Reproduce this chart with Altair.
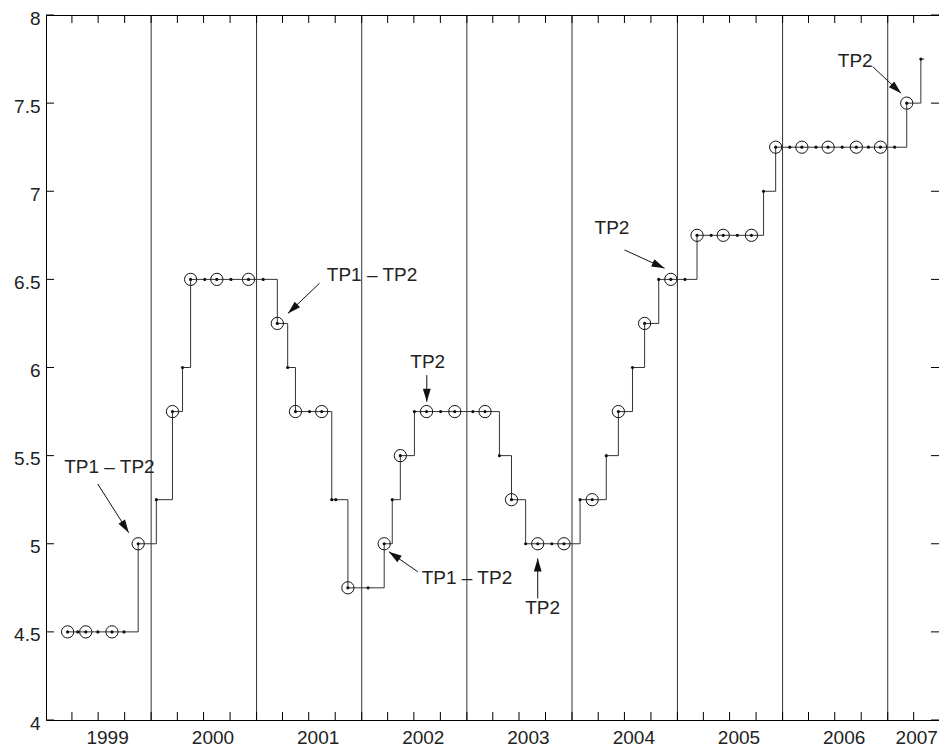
import altair as alt
import pandas as pd

# ---- data: policy rate at each review date ----
review_dates = [
    "1999-03-17", "1999-04-21", "1999-05-19", "1999-06-30", "1999-08-18", "1999-09-29", "1999-11-17",
    "2000-01-19", "2000-03-15", "2000-04-19", "2000-05-17", "2000-07-05", "2000-08-16", "2000-10-04", "2000-12-04",
    "2001-01-24", "2001-03-14", "2001-04-19", "2001-05-16", "2001-07-04", "2001-08-15", "2001-09-19", "2001-10-03", "2001-11-14",
    "2002-01-23", "2002-03-20", "2002-04-17", "2002-05-15", "2002-07-03", "2002-08-14", "2002-10-02", "2002-11-20",
    "2003-01-22", "2003-03-05", "2003-04-24", "2003-06-05", "2003-07-24", "2003-09-04", "2003-10-23", "2003-12-04",
    "2004-01-29", "2004-03-11", "2004-04-29", "2004-06-10", "2004-07-29", "2004-09-09", "2004-10-28", "2004-12-09",
    "2005-01-27", "2005-03-10", "2005-04-28", "2005-06-09", "2005-07-28", "2005-09-15", "2005-10-27", "2005-12-08",
    "2006-01-26", "2006-03-09", "2006-04-27", "2006-06-08", "2006-07-27", "2006-09-14", "2006-10-26", "2006-12-07",
    "2007-01-25", "2007-03-08", "2007-04-26",
]
rate_values = [
    4.5, 4.5, 4.5, 4.5, 4.5, 4.5, 5.0,
    5.25, 5.75, 6.0, 6.5, 6.5, 6.5, 6.5, 6.5,
    6.5, 6.25, 6.0, 5.75, 5.75, 5.75, 5.25, 5.25, 4.75,
    4.75, 5.0, 5.25, 5.5, 5.75, 5.75, 5.75, 5.75,
    5.75, 5.75, 5.5, 5.25, 5.0, 5.0, 5.0, 5.0,
    5.25, 5.25, 5.5, 5.75, 6.0, 6.25, 6.5, 6.5,
    6.5, 6.75, 6.75, 6.75, 6.75, 6.75, 7.0, 7.25,
    7.25, 7.25, 7.25, 7.25, 7.25, 7.25, 7.25, 7.25,
    7.25, 7.5, 7.75,
]
# 1 = circled (statement date), 0 = plain review date
circled = [
    1, 0, 1, 0, 1, 0, 1,
    0, 1, 0, 1, 0, 1, 0, 1,
    0, 1, 0, 1, 0, 1, 0, 0, 1,
    0, 1, 0, 1, 0, 1, 0, 1,
    0, 1, 0, 1, 0, 1, 0, 1,
    0, 1, 0, 1, 0, 1, 0, 1,
    0, 1, 0, 1, 0, 1, 0, 1,
    0, 1, 0, 1, 0, 1, 0, 1,
    0, 1, 0,
]
line_end_date = "2007-05-08"

year_lines = ["2000-01-01", "2001-01-01", "2002-01-01", "2003-01-01",
              "2004-01-01", "2005-01-01", "2006-01-01", "2007-01-01"]
year_label_dates = ["1999-08-01", "2000-08-01", "2001-08-01", "2002-08-01", "2003-08-01",
                    "2004-08-01", "2005-08-01", "2006-08-01", "2007-04-10"]
y_ticks = [4, 4.5, 5, 5.5, 6, 6.5, 7, 7.5, 8]
x_domain = ["1999-01-01", "2007-06-28"]

# ---- annotations (positions in decimal years / rate units) ----
ann_labels = ["TP1 – TP2", "TP1 – TP2", "TP2", "TP1 – TP2", "TP2", "TP2", "TP2"]
ann_text_x = [2002.098, 1999.603, 2002.628, 2003.001, 2003.721, 2004.379, 2006.691]
ann_text_y = [6.525, 5.435, 6.033, 4.804, 4.634, 6.790, 7.739]
arrow_from_x = [2001.599, 1999.492, 2002.619, 2002.533, 2003.674, 2004.498, 2006.857]
arrow_from_y = [6.478, 5.339, 5.957, 4.841, 4.690, 6.667, 7.707]
arrow_to_x = [2001.298, 1999.787, 2002.619, 2002.258, 2003.674, 2004.878, 2007.127]
arrow_to_y = [6.307, 5.063, 5.806, 4.955, 4.917, 6.563, 7.556]
arrow_angle = [226.6, 147.5, 180.0, 304.6, 0.0, 114.6, 133.1]


def ms(s):
    return int(pd.Timestamp(s, tz="UTC").value // 10**6)


def dec_ms(y):
    yr = int(y)
    a = pd.Timestamp(year=yr, month=1, day=1, tz="UTC")
    b = pd.Timestamp(year=yr + 1, month=1, day=1, tz="UTC")
    return int((a + (b - a) * (y - yr)).value // 10**6)


W, H = 893, 705
FONT = "Liberation Sans"
TICK = 8

rate_df = pd.DataFrame({"date": [ms(d) for d in review_dates], "rate": rate_values, "circ": circled})
line_df = pd.concat([rate_df[["date", "rate"]],
                     pd.DataFrame({"date": [ms(line_end_date)], "rate": [rate_values[-1]]})],
                    ignore_index=True)
circ_df = rate_df[rate_df["circ"] == 1]
years_df = pd.DataFrame({"date": [ms(d) for d in year_lines]})
qticks_df = pd.DataFrame({"date": [int(t.value // 10**6) for t in
                                    pd.date_range("1999-04-01", "2007-04-01", freq="QS", tz="UTC")]})
yticks_df = pd.DataFrame({"rate": y_ticks})
text_df = pd.DataFrame({"tx": [dec_ms(v) for v in ann_text_x], "ty": ann_text_y, "label": ann_labels})
arrow_df = pd.DataFrame({"ax0": [dec_ms(v) for v in arrow_from_x], "ay0": arrow_from_y,
                         "ax1": [dec_ms(v) for v in arrow_to_x], "ay1": arrow_to_y,
                         "angle": arrow_angle})

xs = alt.Scale(type="utc", domain=[ms(x_domain[0]), ms(x_domain[1])])
ys = alt.Scale(domain=[4, 8], nice=False, zero=False)

x_axis = alt.Axis(values=[ms(d) for d in year_label_dates],
                  labelExpr="utcFormat(datum.value, '%Y')",
                  title=None, grid=False, domain=False, ticks=False, tickSize=0,
                  labelFont=FONT, labelFontSize=19, labelColor="#222222",
                  labelPadding=8, labelFlush=False, labelOverlap=False, labelBound=False)
y_axis = alt.Axis(values=y_ticks, format="~g", title=None, grid=False, domain=False,
                  ticks=False, tickSize=0, labelFont=FONT, labelFontSize=19,
                  labelColor="#222222", labelPadding=6, labelOffset=3,
                  labelFlush=False, labelOverlap=False)


def X(field):
    return alt.X(field, type="temporal", scale=xs, axis=x_axis, title=None)


def Y(field):
    return alt.Y(field, type="quantitative", scale=ys, axis=y_axis, title=None)


year_rules = alt.Chart(years_df).mark_rule(color="#333333", strokeWidth=1).encode(
    x=X("date"))

step_line = alt.Chart(line_df).mark_line(interpolate="step-after", color="#333333",
                                         strokeWidth=1).encode(
    x=X("date"), y=Y("rate"))

dots = alt.Chart(rate_df).mark_point(shape="circle", filled=True, color="#111111",
                                     size=10, opacity=1).encode(
    x=X("date"), y=Y("rate"))

rings = alt.Chart(circ_df).mark_point(shape="circle", filled=False, color="#111111",
                                      size=150, strokeWidth=1, opacity=1).encode(
    x=X("date"), y=Y("rate"))

bottom_ticks = alt.Chart(qticks_df).mark_rule(color="black", strokeWidth=1).encode(
    x=X("date"), y=alt.value(H), y2=alt.value(H - TICK))
top_ticks = alt.Chart(qticks_df).mark_rule(color="black", strokeWidth=1).encode(
    x=X("date"), y=alt.value(0), y2=alt.value(TICK))
left_ticks = alt.Chart(yticks_df).mark_rule(color="black", strokeWidth=1).encode(
    y=Y("rate"), x=alt.value(0), x2=alt.value(TICK))
right_ticks = alt.Chart(yticks_df).mark_rule(color="black", strokeWidth=1).encode(
    y=Y("rate"), x=alt.value(W - TICK), x2=alt.value(W))

arrow_lines = alt.Chart(arrow_df).mark_rule(color="#111111", strokeWidth=1).encode(
    x=X("ax0"), x2=alt.X2("ax1"),
    y=Y("ay0"), y2=alt.Y2("ay1"))

arrow_heads = alt.Chart(arrow_df).mark_point(
    shape="M0,0L-0.6,2L0.6,2Z", filled=True, color="#111111", size=169, opacity=1,
    strokeWidth=0).encode(
    x=X("ax1"), y=Y("ay1"),
    angle=alt.Angle("angle:Q", scale=None))

labels = alt.Chart(text_df).mark_text(font=FONT, fontSize=19, color="#222222",
                                      align="center", baseline="middle").encode(
    x=X("tx"), y=Y("ty"),
    text="label:N")

chart = alt.layer(
    year_rules, step_line, dots, rings,
    bottom_ticks, top_ticks, left_ticks, right_ticks,
    arrow_lines, arrow_heads, labels,
).properties(
    width=W, height=H,
    autosize=alt.AutoSizeParams(type="none"),
    padding={"left": 38, "top": 7, "right": 0, "bottom": 32},
    background="white",
).configure_view(stroke="black", strokeWidth=1)

chart.save("out.html", embed_options={"renderer": "svg", "actions": False})
